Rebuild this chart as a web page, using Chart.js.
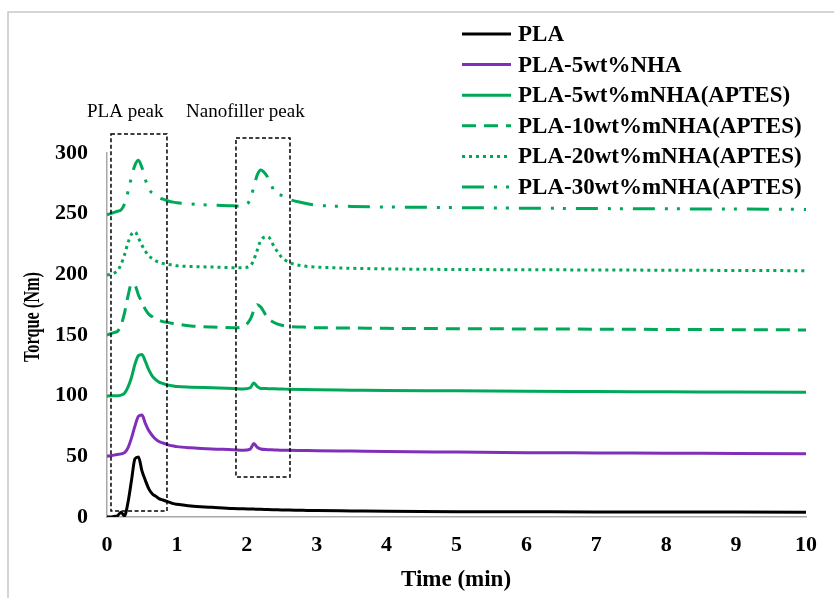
<!DOCTYPE html>
<html>
<head>
<meta charset="utf-8">
<script src="https://cdn.jsdelivr.net/npm/chart.js@4"></script>
<style>
  body { margin: 0; background: #fff; }
  canvas { display: block; }
</style>
</head>
<body>
<canvas id="torquechart" width="834" height="598"></canvas>
<script>
// time axis (min), shared by every curve
const times = [0, 0.05, 0.1, 0.15, 0.2, 0.25, 0.3, 0.35, 0.4, 0.45, 0.5, 0.55, 0.6, 0.65, 0.7, 0.75, 0.8, 0.85, 0.9, 0.95, 1.0,
  1.2, 1.5, 1.8, 1.95, 2.05, 2.1, 2.15, 2.2, 2.3, 2.4, 2.5, 2.6, 2.8, 3, 3.5, 4, 5, 6, 7, 8, 9, 10];

// torque (Nm)
const pla = [0, 0, 0.5, 1, 4, 1, 12, 30, 48, 49.5, 38, 30, 23, 19, 17, 15, 14, 13, 12, 11, 10.5,
  9, 8, 7, 6.8, 6.6, 6.5, 6.4, 6.3, 6.2, 6, 5.8, 5.7, 5.5, 5.3, 5, 4.7, 4.4, 4.3, 4.2, 4.2, 4.1, 4];
const pla5nha = [50, 50.5, 51, 51.5, 52, 53, 57, 65, 75, 83, 84, 77, 71, 67, 64, 62, 61, 60, 59, 58.5, 58,
  57, 56, 55.5, 55, 56, 60.5, 57.5, 56, 55.5, 55.3, 55, 55, 54.8, 54.6, 54.3, 54, 53.5, 53, 52.8, 52.6, 52.4, 52.2];
const pla5mnha = [99.5, 100, 100, 100, 100.5, 102, 107, 115, 126, 133, 134, 128, 121, 116, 113, 111, 110, 109, 108.5, 108, 107.5,
  107, 106.5, 106, 105.5, 106.5, 110.5, 107.5, 106, 105.8, 105.6, 105.5, 105.3, 105, 104.8, 104.5, 104.2, 104, 103.6, 103.4, 103.2, 103, 102.8];
const pla10mnha = [150, 151, 152, 153, 158, 168, 182, 192, 191, 183, 177, 171, 167, 165, 163, 162, 161, 160.5, 160, 159.5, 159,
  157.5, 156.5, 156, 157, 163, 170, 175, 173, 164, 160, 158, 157, 156.5, 156, 155.8, 155.5, 155.2, 155, 154.8, 154.6, 154.4, 154.2];
const pla20mnha = [199.5, 200, 201, 203, 208, 216, 226, 233, 235, 230, 224, 219, 215, 213, 211, 210, 209, 208.5, 208, 207.5, 207,
  206.5, 206, 205.5, 205.5, 207, 212, 220, 228, 231, 222, 214, 210, 207, 206, 205, 204.5, 204, 203.8, 203.6, 203.4, 203.2, 203];
const pla30mnha = [249, 250, 251, 252, 253, 258, 268, 280, 290, 294, 288, 278, 270, 267, 265, 263, 262, 261, 260, 259.5, 259,
  258, 257, 256.5, 256, 262, 272, 282, 286, 280, 268, 265, 262, 259, 257, 256, 255.5, 255, 254.5, 254.2, 254, 253.8, 253.5];

const seriesNames = ['PLA', 'PLA-5wt%NHA', 'PLA-5wt%mNHA(APTES)', 'PLA-10wt%mNHA(APTES)', 'PLA-20wt%mNHA(APTES)', 'PLA-30wt%mNHA(APTES)'];
const seriesValues = [pla, pla5nha, pla5mnha, pla10mnha, pla20mnha, pla30mnha];

const xTicks = [0, 1, 2, 3, 4, 5, 6, 7, 8, 9, 10];
const yTicks = [0, 50, 100, 150, 200, 250, 300];

// dashed boxes around the peaks, in data units [x0, x1, yBottom, yTop]
const peakBoxes = [[0.057, 0.858, 4.9, 315.7], [1.845, 2.618, 33, 312.4]];

const BLACK = '#000000';
const PURPLE = '#8030B8';
const GREEN = '#00A859';
const seriesStyles = [
  { color: BLACK, dash: [] },
  { color: PURPLE, dash: [] },
  { color: GREEN, dash: [] },
  { color: GREEN, dash: [14, 8] },
  { color: GREEN, dash: [3, 4] },
  { color: GREEN, dash: [22, 10, 3, 9, 3, 10] }
];

const SERIF = '"Liberation Serif", "Times New Roman", serif';

/**
 * draws frame, annotations, custom legend and axis titles on top of the chart
 */
const extrasPlugin = {
  id: 'extras',
  afterDraw(chart) {
    const ctx = chart.ctx;
    const xs = chart.scales.x;
    const ys = chart.scales.y;
    ctx.save();

    // light frame round the figure
    ctx.strokeStyle = '#c8c8c8';
    ctx.lineWidth = 1.5;
    ctx.beginPath();
    ctx.moveTo(8, 598);
    ctx.lineTo(8, 12);
    ctx.lineTo(834, 12);
    ctx.stroke();

    // peak boxes
    ctx.strokeStyle = BLACK;
    ctx.lineWidth = 1.5;
    ctx.setLineDash([4, 2.5]);
    peakBoxes.forEach(b => {
      const x0 = xs.getPixelForValue(b[0]);
      const x1 = xs.getPixelForValue(b[1]);
      const y0 = ys.getPixelForValue(b[3]);
      const y1 = ys.getPixelForValue(b[2]);
      ctx.strokeRect(x0, y0, x1 - x0, y1 - y0);
    });
    ctx.setLineDash([]);

    // annotation labels
    ctx.fillStyle = BLACK;
    ctx.textBaseline = 'alphabetic';
    ctx.textAlign = 'left';
    ctx.font = '19px ' + SERIF;
    ctx.fillText('PLA peak', 87, 117, 77);
    ctx.fillText('Nanofiller peak', 186, 117, 124);

    // legend
    ctx.font = 'bold 23px ' + SERIF;
    ctx.textBaseline = 'middle';
    seriesNames.forEach((name, i) => {
      const y = 34 + i * 30.6;
      const st = seriesStyles[i];
      ctx.strokeStyle = st.color;
      ctx.lineWidth = 3;
      ctx.setLineDash(st.dash);
      ctx.beginPath();
      ctx.moveTo(462, y);
      ctx.lineTo(511, y);
      ctx.stroke();
      ctx.setLineDash([]);
      ctx.fillStyle = BLACK;
      ctx.fillText(name, 518, y + 1, 290);
    });

    // axis titles
    ctx.font = 'bold 23px ' + SERIF;
    ctx.textAlign = 'center';
    ctx.fillText('Time (min)', 456, 580, 114);
    ctx.translate(33, 317);
    ctx.rotate(-Math.PI / 2);
    ctx.fillText('Torque (Nm)', 0, 0, 90);

    ctx.restore();
  }
};

function buildDatasets() {
  return seriesNames.map((name, i) => ({
    label: name,
    data: times.map((t, k) => ({ x: t, y: seriesValues[i][k] })),
    borderColor: seriesStyles[i].color,
    backgroundColor: seriesStyles[i].color,
    borderDash: seriesStyles[i].dash,
    borderCapStyle: 'butt',
    borderWidth: 3,
    pointRadius: 0,
    cubicInterpolationMode: 'monotone',
    fill: false
  }));
}

const initialize = () => {
  const tickFont = { family: SERIF, size: 22, weight: 'bold' };

  new Chart(document.getElementById('torquechart'), {
    type: 'line',
    data: { datasets: buildDatasets() },
    options: {
      responsive: false,
      animation: false,
      devicePixelRatio: 1,
      layout: { padding: { top: 153, right: 28, left: 0, bottom: 0 } },
      plugins: {
        legend: { display: false },
        tooltip: { enabled: false }
      },
      scales: {
        x: {
          type: 'linear',
          min: 0,
          max: 10,
          afterBuildTicks: scale => { scale.ticks = xTicks.map(v => ({ value: v })); },
          afterFit: scale => { scale.height = 81; },
          ticks: { font: tickFont, color: BLACK, padding: 15, maxRotation: 0 },
          grid: { display: false, drawTicks: false },
          border: { display: true, color: '#a8a8a8', width: 1.5 }
        },
        y: {
          type: 'linear',
          min: 0,
          max: 300,
          afterBuildTicks: scale => { scale.ticks = yTicks.map(v => ({ value: v })); },
          afterFit: scale => { scale.width = 107; },
          ticks: { font: tickFont, color: BLACK, padding: 19 },
          grid: { display: false, drawTicks: false },
          border: { display: true, color: '#a8a8a8', width: 1.5 }
        }
      }
    },
    plugins: [extrasPlugin]
  });
};

window.onload = initialize;
</script>
</body>
</html>
